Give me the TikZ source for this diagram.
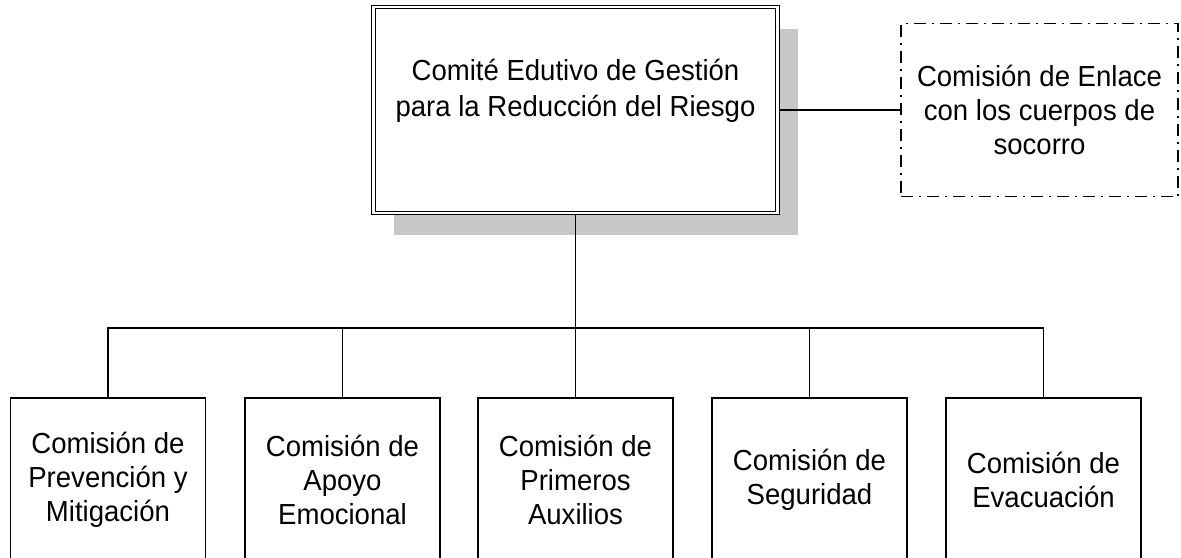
\documentclass[tikz,border=0pt]{standalone}
\usepackage{fontspec}
\setmainfont[FakeStretch=0.95]{Liberation Sans}
\usetikzlibrary{shadows}

\begin{document}
\begin{tikzpicture}[x=0.5pt,y=-0.5pt,line width=0.65pt,
  every node/.style={align=center,font=\fontsize{14.5}{17}\selectfont},
  comite/.style={draw,double,double distance=1.2pt,line width=0.6pt,fill=white,
    minimum width=202pt,minimum height=103pt,inner sep=0pt,outer sep=1.2pt,
    drop shadow={shadow xshift=10pt,shadow yshift=-11pt,fill=black!22,opacity=1}},
  enlace/.style={draw,dash pattern=on 6pt off 3pt on 1pt off 3pt,
    minimum width=138.5pt,minimum height=86.5pt,inner sep=0pt},
  comision/.style={draw,minimum width=97.5pt,minimum height=82pt,inner sep=0pt}]
  \useasboundingbox (0,0) rectangle (1181,557);
  \node[comite] (cmt) at (575.5,110) {};
  \node[font=\fontsize{14.5}{18}\selectfont] (cmttxt) at (575.5,91)
       {Comité Edutivo de Gestión\\para la Reducción del Riesgo};
  \node[enlace] (enl) at (1039.5,110) {Comisión de Enlace\\con los cuerpos de\\socorro};
  \node[comision] (prev) at (108,480) {Comisión de\\Prevención y\\Mitigación};
  \node[comision] (apoyo) at (342.5,480) {Comisión de\\Apoyo\\Emocional};
  \node[comision] (aux) at (575.5,480) {Comisión de\\Primeros\\Auxilios};
  \node[comision] (seg) at (809.5,480) {Comisión de\\Seguridad};
  \node[comision] (evac) at (1043.5,480) {Comisión de\\Evacuación};
  \coordinate (bus) at (575.5,328);
  \draw (cmt.east) -- (enl.west);
  \draw (cmt.south) -- (bus);
  \foreach \c in {prev,apoyo,aux,seg,evac}
    \draw (\c.north) |- (bus);
\end{tikzpicture}
\end{document}
